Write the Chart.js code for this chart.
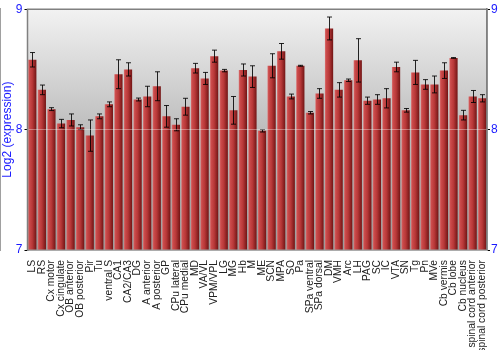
<!DOCTYPE html>
<html>
<head>
<meta charset="utf-8">
<script src="https://cdn.jsdelivr.net/npm/chart.js@4.4.1/dist/chart.umd.min.js"></script>
<style>
  html, body { margin: 0; padding: 0; background: #fff; }
  #wrap { width: 500px; height: 350px; }
</style>
</head>
<body>
<div id="wrap"><canvas id="chart" width="500" height="350"></canvas></div>
<script>
// regions along the x axis
const regions = ['LS', 'RS', 'Cx motor', 'Cx cingulate', 'OB anterior', 'OB posterior', 'Pir', 'Tu',
  'ventral S', 'CA1', 'CA2/CA3', 'DG', 'A anterior', 'A posterior', 'GP', 'CPu lateral', 'CPu medial',
  'MD', 'VA/VL', 'VPM/VPL', 'LG', 'MG', 'Hb', 'M', 'ME', 'SCN', 'MPA', 'SO', 'Pa', 'SPa ventral',
  'SPa dorsal', 'DM', 'VMH', 'Arc', 'LH', 'PAG', 'SC', 'IC', 'VTA', 'SN', 'Tg', 'Pn', 'MVe',
  'Cb vermis', 'Cb lobe', 'Cb nucleus', 'spinal cord anterior', 'spinal cord posterior'];

// mean log2 expression per region
const expression = [8.58, 8.33, 8.17, 8.05, 8.08, 8.02, 7.95, 8.11,
  8.21, 8.46, 8.50, 8.25, 8.275, 8.36, 8.11, 8.04, 8.19,
  8.51, 8.425, 8.61, 8.49, 8.16, 8.495, 8.44, 7.99, 8.53, 8.65, 8.275, 8.53, 8.14,
  8.30, 8.84, 8.33, 8.41, 8.575, 8.24, 8.25, 8.26, 8.52, 8.16, 8.475, 8.375, 8.375,
  8.49, 8.595, 8.12, 8.275, 8.26];

// +/- error per region
const errors = [0.06, 0.04, 0.012, 0.035, 0.05, 0.02, 0.13, 0.02,
  0.02, 0.12, 0.055, 0.012, 0.085, 0.12, 0.09, 0.05, 0.07,
  0.04, 0.05, 0.05, 0.01, 0.115, 0.05, 0.09, 0.01, 0.1, 0.065, 0.02, 0.004, 0.01,
  0.04, 0.095, 0.06, 0.01, 0.18, 0.03, 0.04, 0.08, 0.04, 0.015, 0.1, 0.04, 0.07,
  0.065, 0.003, 0.04, 0.05, 0.03];

const yTicks = [7, 8, 9];

const blue = '#1a1aff';
const frame = '#808080';

// gray gradient behind the plot + frame on top
const plotBackground = {
  id: 'plotBackground',
  beforeDraw(chart) {
    const a = chart.chartArea, c = chart.ctx;
    const g = c.createLinearGradient(0, a.top, 0, a.bottom);
    g.addColorStop(0, '#f2f2f2');
    g.addColorStop(0.5, '#bdbdbd');
    g.addColorStop(1, '#9a9a9a');
    c.save();
    c.fillStyle = g;
    c.fillRect(a.left, a.top, a.right - a.left, a.bottom - a.top);
    c.restore();
  },
  afterDraw(chart) {
    const a = chart.chartArea, c = chart.ctx;
    c.save();
    c.strokeStyle = frame;
    c.lineWidth = 1.5;
    c.beginPath();
    c.moveTo(a.left, a.bottom);
    c.lineTo(a.left, a.top);
    c.lineTo(a.right, a.top);
    c.lineTo(a.right, a.bottom);
    c.stroke();
    c.restore();
  }
};

// error bars from the errors array
const errorBars = {
  id: 'errorBars',
  afterDatasetsDraw(chart) {
    const c = chart.ctx;
    const x = chart.scales.x, y = chart.scales.y;
    c.save();
    c.lineWidth = 1;
    c.strokeStyle = 'rgba(0,0,0,0.85)';
    expression.forEach((v, i) => {
      const px = Math.round(x.getPixelForValue(i)) + 0.5;
      const hi = y.getPixelForValue(v + errors[i]);
      const lo = y.getPixelForValue(v - errors[i]);
      c.beginPath();
      c.moveTo(px, hi); c.lineTo(px, lo);
      c.moveTo(px - 2.5, hi); c.lineTo(px + 2.5, hi);
      c.moveTo(px - 2.5, lo); c.lineTo(px + 2.5, lo);
      c.stroke();
    });
    c.restore();
  }
};

function barFill(context) {
  const chart = context.chart;
  const x = chart.scales.x;
  if (!x || context.dataIndex === undefined) return '#b03030';
  const cx = x.getPixelForValue(context.dataIndex);
  if (!isFinite(cx)) return '#b03030';
  const g = chart.ctx.createLinearGradient(cx - 4.2, 0, cx + 4.2, 0);
  g.addColorStop(0, '#dc7878');
  g.addColorStop(0.15, '#cc4c4c');
  g.addColorStop(0.5, '#b83838');
  g.addColorStop(1, '#701414');
  return g;
}

new Chart(document.getElementById('chart'), {
  type: 'bar',
  data: {
    labels: regions,
    datasets: [{
      data: expression,
      backgroundColor: barFill,
      borderWidth: 0,
      barPercentage: 0.86,
      categoryPercentage: 1,
      base: 7
    }]
  },
  options: {
    responsive: false,
    animation: false,
    layout: { padding: { top: 9, left: 0, right: 0, bottom: 0 } },
    plugins: { legend: { display: false }, tooltip: { enabled: false } },
    scales: {
      x: {
        grid: { display: false },
        border: { color: frame },
        ticks: {
          autoSkip: false, maxRotation: 90, minRotation: 90, padding: 2,
          color: '#222', font: { family: 'Liberation Sans, Arial, sans-serif', size: 10.3 }
        },
        afterFit(scale) { scale.height = 100; }
      },
      y: {
        min: 7, max: 9,
        afterBuildTicks(scale) { scale.ticks = yTicks.map(v => ({ value: v })); },
        grid: { color: 'rgba(255,255,255,0.35)', tickColor: '#000', tickLength: 3, z: 1, lineWidth: 1 },
        border: { color: frame, width: 1.5 },
        ticks: { color: blue, padding: 2, font: { family: 'Liberation Sans, Arial, sans-serif', size: 12 } },
        title: {
          display: true, text: 'Log2 (expression)', color: blue, padding: 0,
          font: { family: 'Liberation Sans, Arial, sans-serif', size: 12 }
        },
        afterFit(scale) { scale.width = 27.5; }
      },
      y2: {
        position: 'right',
        min: 7, max: 9,
        afterBuildTicks(scale) { scale.ticks = yTicks.map(v => ({ value: v })); },
        grid: { drawOnChartArea: false, tickColor: '#000', tickLength: 3 },
        border: { color: frame, width: 1.5 },
        ticks: { color: blue, padding: 1, font: { family: 'Liberation Sans, Arial, sans-serif', size: 12 } },
        afterFit(scale) { scale.width = 13; }
      }
    }
  },
  plugins: [plotBackground, errorBars]
});
</script>
</body>
</html>
